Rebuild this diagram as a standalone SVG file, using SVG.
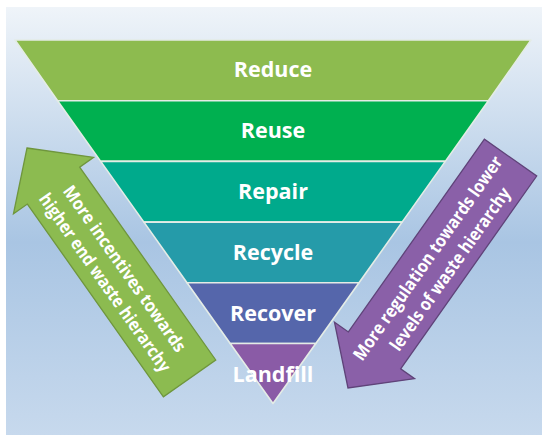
<svg xmlns="http://www.w3.org/2000/svg" width="550" height="444" viewBox="0 0 550 444">
  <defs>
    <linearGradient id="bg" x1="0" y1="0" x2="0" y2="1">
      <stop offset="0" stop-color="#eff4f9"/>
      <stop offset="0.55" stop-color="#a9c5e3"/>
      <stop offset="1" stop-color="#c7d9ed"/>
    </linearGradient>
  </defs>
  <style>
    .band { stroke: #e4ece6; stroke-width: 1.6; stroke-linejoin: round; }
    .lbl { font-family: "Open Sans", "Liberation Sans", sans-serif; font-weight: 700; font-size: 21.5px; fill: #ffffff; text-anchor: middle; }
    .atxt { font-family: "Open Sans", "Liberation Sans", sans-serif; font-weight: 700; font-size: 17.8px; fill: #ffffff; text-anchor: middle; }
  </style>
  <rect x="0" y="0" width="550" height="444" fill="#ffffff"/>
  <rect x="6" y="7" width="536" height="428" fill="url(#bg)"/>

  <g id="reduce">
    <polygon class="band" points="15,40 531,40 488.4,100.7 57.6,100.7" fill="#8dbb4f"/>
    <text class="lbl" x="273" y="77">Reduce</text>
  </g>
  <g id="reuse">
    <polygon class="band" points="57.6,100.7 488.4,100.7 445.3,161.4 100.7,161.4" fill="#00b050"/>
    <text class="lbl" x="273" y="138">Reuse</text>
  </g>
  <g id="repair">
    <polygon class="band" points="100.7,161.4 445.3,161.4 402.1,222.1 143.9,222.1" fill="#00aa8c"/>
    <text class="lbl" x="273" y="199">Repair</text>
  </g>
  <g id="recycle">
    <polygon class="band" points="143.9,222.1 402.1,222.1 359,282.8 187,282.8" fill="#259ba9"/>
    <text class="lbl" x="273" y="260">Recycle</text>
  </g>
  <g id="recover">
    <polygon class="band" points="187,282.8 359,282.8 315.8,343.5 230.2,343.5" fill="#5566ab"/>
    <text class="lbl" x="273" y="321">Recover</text>
  </g>
  <g id="landfill">
    <polygon class="band" points="230.2,343.5 315.8,343.5 273,403.5" fill="#8a5ba6"/>
    <text class="lbl" x="273" y="382">Landfill</text>
  </g>

  <g id="incentives-arrow" transform="translate(27,148) rotate(-35.2)">
    <polygon points="0,0 49,46 32,46 32,282 -32,282 -32,46 -49,46" fill="#8cbb50" stroke="#6f963d" stroke-width="1.3" stroke-linejoin="miter"/>
    <g transform="rotate(90)">
      <text class="atxt" x="155" y="-4" textLength="199" lengthAdjust="spacingAndGlyphs">More incentives towards</text>
      <text class="atxt" x="155" y="20" textLength="214" lengthAdjust="spacingAndGlyphs">higher end waste hierarchy</text>
    </g>
  </g>

  <g id="regulation-arrow" transform="translate(348,388) rotate(-144.8)">
    <polygon points="0,0 49,46 32,46 32,282 -32,282 -32,46 -49,46" fill="#8a60a8" stroke="#5f4379" stroke-width="1.3" stroke-linejoin="miter"/>
    <g transform="rotate(90)">
      <text class="atxt" x="152" y="-3.5" textLength="245" lengthAdjust="spacingAndGlyphs">More regulation towards lower</text>
      <text class="atxt" x="156" y="21" textLength="195" lengthAdjust="spacingAndGlyphs">levels of waste hierarchy</text>
    </g>
  </g>
</svg>
